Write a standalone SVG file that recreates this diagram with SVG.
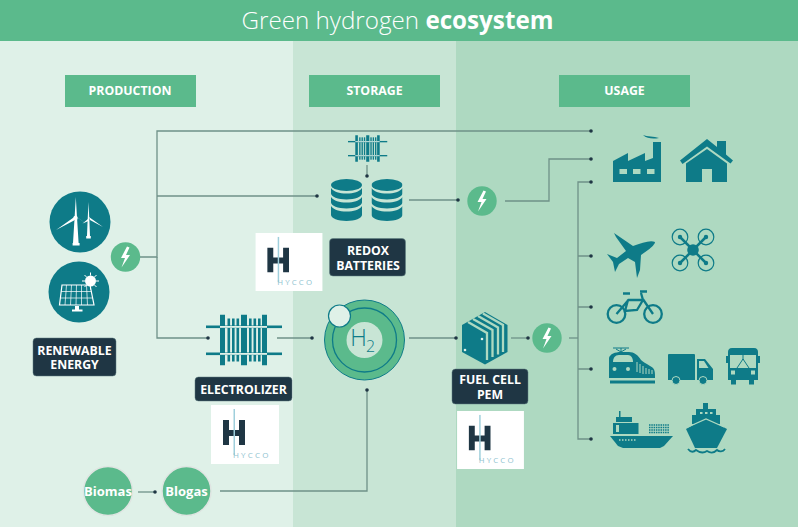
<svg xmlns="http://www.w3.org/2000/svg" width="798" height="527" viewBox="0 0 798 527">
<style>
.c{fill:none;stroke:#6f9188;stroke-width:1.3}
.d{fill:#1f3644}
.t{fill:#0e7b88}
.w{fill:#fff}
.hd{font:700 12.300px "Open Sans",sans-serif;fill:#fff;text-anchor:middle}
.lb{font:700 12.300px "Open Sans",sans-serif;fill:#fff;text-anchor:middle}
.bx{fill:#1f3644;stroke:#5f7f80;stroke-width:.5}
.g{fill:#5bba8c}
.hy{font:400 8px "Open Sans",sans-serif;fill:#8fc3d0;letter-spacing:2.200px}
.bio{font:700 13px "Open Sans",sans-serif;fill:#fff;text-anchor:middle}
.ring{fill:#5bba8c;stroke:#dfe5e2;stroke-width:1.500}
</style>
<defs>
<symbol id="bolt" viewBox="-15 -15 30 30" overflow="visible">
<circle r="14.700" class="g"/>
<path d="M1.500-10.500 L-4.500 1 L-.5 1 L-4 10.500 L4.500-2 L.5-2 L4-9.500Z" class="w"/>
</symbol>
<symbol id="logo" viewBox="0 0 68 59">
<rect width="68" height="59" fill="#fff"/>
<path d="M12 15h6v10h10V15h6v25h-6V31H18v9h-6z" fill="#1f3644"/>
<rect x="22.500" y="4" width="1.500" height="46" fill="#9fcfdc"/>
<text x="22" y="53" class="hy">HYCCO</text>
</symbol>
<symbol id="elec" viewBox="0 0 76 51">
<g class="t">
<rect y="11" width="76" height="2.600"/><rect y="38" width="76" height="2.600"/>
<rect x="14" width="5" height="51"/><rect x="35" width="6" height="51"/><rect x="56" width="5" height="51"/>
<rect x="21.500" y="4" width="2.600" height="43"/><rect x="26" y="4" width="2.600" height="43"/><rect x="30.500" y="4" width="2.600" height="43"/>
<rect x="43" y="4" width="2.600" height="43"/><rect x="47.500" y="4" width="2.600" height="43"/><rect x="52" y="4" width="2.600" height="43"/>
</g>
<g fill="#dff1e8"><rect x="14" y="11.500" width="47" height="1.800"/><rect x="14" y="38.500" width="47" height="1.800"/></g>
</symbol>
<symbol id="db" viewBox="0 0 31 42">
<g class="t">
<ellipse cx="15.500" cy="6" rx="15.500" ry="6"/>
<path d="M0 9c3 4 8 5.500 15.500 5.500S28 13 31 9v5.500c0 3-7 6-15.500 6S0 17.500 0 14.500z"/>
<path d="M0 18c3 4 8 5.500 15.500 5.500S28 22 31 18v5.500c0 3-7 6-15.500 6S0 26.500 0 23.500z"/>
<path d="M0 27c3 4 8 5.500 15.500 5.500S28 31 31 27v9c0 3-7 6-15.500 6S0 39 0 36z"/>
</g>
</symbol>
</defs>

<g id="background">
<rect width="293" height="527" fill="#dff1e8"/>
<rect x="293" width="163" height="527" fill="#c8e5d5"/>
<rect x="456" width="342" height="527" fill="#aed9c1"/>
<rect width="798" height="41" fill="#5bba8c"/>
<text x="397.500" y="29" text-anchor="middle" style="font:300 24.200px 'Open Sans',sans-serif" fill="#fff">Green hydrogen <tspan font-weight="700">ecosystem</tspan></text>
</g>

<g id="headers">
<g id="h-production"><rect x="65" y="75" width="131" height="32" class="g"/><text x="130" y="95" class="hd">PRODUCTION</text></g>
<g id="h-storage"><rect x="309" y="75" width="131" height="32" class="g"/><text x="374.500" y="95" class="hd">STORAGE</text></g>
<g id="h-usage"><rect x="559" y="75" width="131" height="32" class="g"/><text x="624.500" y="95" class="hd">USAGE</text></g>
</g>

<g id="connectors">
<path class="c" d="M140 257H157V131H591"/>
<path class="c" d="M157 196H317"/>
<path class="c" d="M157 257V338H208"/>
<path class="c" d="M277 338H312"/>
<path class="c" d="M367 165V176"/>
<path class="c" d="M409 200H458"/>
<path class="c" d="M505 201H549V159H591"/>
<path class="c" d="M409 338H456"/>
<path class="c" d="M511 338H528"/>
<path class="c" d="M569 338H578"/>
<path class="c" d="M591 182H578V439H591"/>
<path class="c" d="M578 256H591M578 307H591M578 369H591"/>
<path class="c" d="M138 492H155"/>
<path class="c" d="M220 491H367V390"/>
<g class="d">
<circle cx="591" cy="131" r="1.800"/><circle cx="591" cy="159" r="1.800"/><circle cx="591" cy="182" r="1.800"/>
<circle cx="591" cy="256" r="1.800"/><circle cx="591" cy="307" r="1.800"/><circle cx="591" cy="369" r="1.800"/><circle cx="591" cy="439" r="1.800"/>
<circle cx="317" cy="196" r="1.800"/><circle cx="367" cy="176" r="1.800"/><circle cx="458" cy="200" r="1.800"/>
<circle cx="208" cy="338" r="1.800"/><circle cx="312" cy="338" r="1.800"/><circle cx="367" cy="390" r="1.800"/>
<circle cx="456" cy="338" r="1.800"/><circle cx="528" cy="338" r="1.800"/><circle cx="155" cy="492" r="1.800"/>
</g>
</g>

<g id="renewable-energy">
<circle cx="80" cy="222" r="30.500" class="t"/>
<g class="w">
<path d="M73 243l1.500-24 1.300-22 1.300 22 1.500 24h1v2.500h-7V243z"/>
<path d="M75 216.500L56 230l18-9.500zM76 216.500L94 229l-16-11z"/>
<circle cx="75.500" cy="218" r="2.200" fill="#fff"/>
<path d="M87 236l.6-15 .9-19 .9 19 .6 15h.8v2.500h-4.600V236z"/>
<path d="M88 219l-5.500 4.500 6-2.500zM89 217l14 10-13-7z"/>
</g>
<circle cx="79" cy="292" r="30.500" class="t"/>
<path d="M62 285h28l4 20H59.500z" fill="none" stroke="#fff" stroke-width="1.200"/>
<path d="M66.500 285l-1.500 20M71.500 285l-1 20M76.500 285l-.5 20M81.500 285l0 20M86.500 285l1 20M61 291.500h30.500M60.500 298h32" stroke="#fff" stroke-width=".7" fill="none"/>
<path d="M75 306h4v3.500h3.500v2h-10.500v-2H75z" class="w"/>
<circle cx="90.500" cy="281" r="5.500" class="w"/>
<path d="M90.500 272.500v3M90.500 286.500v3M82 281h3M96 281h3M84.500 275l2 2M96.500 275l-2 2M84.500 287l2-2M96.500 287l-2-2" stroke="#fff" stroke-width="1"/>
<rect x="33" y="338" width="83" height="38" rx="3.500" class="bx"/>
<text class="lb"><tspan x="74.500" y="354.500">RENEWABLE</tspan><tspan x="74.500" y="369">ENERGY</tspan></text>
</g>
<g id="bolt-production"><use href="#bolt" x="110.500" y="242" width="30" height="30"/></g>

<g id="electrolizer">
<use href="#elec" x="206" y="314.500" width="76" height="51"/>
<rect x="195" y="377" width="97" height="24" rx="3.500" class="bx"/>
<text x="243.500" y="393.500" class="lb">ELECTROLIZER</text>
</g>
<g id="logo-electrolizer"><use href="#logo" x="211" y="405" width="68" height="59"/></g>

<g id="hydrogen">
<circle cx="364.500" cy="340" r="40" class="g" stroke="#0e7b88" stroke-width="1"/>
<circle cx="364.500" cy="340" r="32" fill="none" stroke="#0e7b88" stroke-width="1.300"/>
<circle cx="364.500" cy="340" r="18" fill="#c8e5d5"/>
<circle cx="339.500" cy="316" r="11" fill="#dff1e8" stroke="#0e7b88" stroke-width="1.200"/>
<text x="358.500" y="346" style="font:300 23px 'Open Sans',sans-serif" fill="#0e7b88" text-anchor="middle">H</text>
<text x="370.500" y="352" style="font:300 16px 'Open Sans',sans-serif" fill="#0e7b88" text-anchor="middle">2</text>
</g>

<g id="redox-batteries">
<use href="#elec" x="348" y="135" width="39.500" height="27"/>
<use href="#db" x="331" y="179" width="31" height="42"/>
<use href="#db" x="371.500" y="179" width="31" height="42"/>
<rect x="329.500" y="238.500" width="76" height="37.500" rx="3.500" class="bx"/>
<text class="lb"><tspan x="368" y="255">REDOX</tspan><tspan x="368" y="270">BATTERIES</tspan></text>
</g>
<g id="logo-redox"><use href="#logo" x="255" y="233" width="68" height="58"/></g>

<g id="bolt-storage"><use href="#bolt" x="467" y="186" width="30" height="30"/></g>

<g id="fuel-cell">
<path d="M485 312l22.500 13v27L485 364.500 462 352v-27z" class="t"/>
<path d="M468 322l19 11v27M473 319l19.500 11v27M478 316l20 11.500v27M483 313.500l20 11.500v27" fill="none" stroke="#aed9c1" stroke-width="2.300"/>
<circle cx="482" cy="339" r="1.300" fill="#dff1e8"/><circle cx="465" cy="350" r="1.300" fill="#dff1e8"/>
<rect x="452" y="369" width="76" height="35" rx="3.500" class="bx"/>
<text class="lb"><tspan x="490" y="384">FUEL CELL</tspan><tspan x="490" y="398.500">PEM</tspan></text>
</g>
<g id="logo-fuelcell"><use href="#logo" x="457" y="411" width="67" height="58"/></g>
<g id="bolt-fuelcell"><use href="#bolt" x="532" y="323" width="30" height="30"/></g>

<g id="biomas">
<circle cx="108" cy="491" r="24.500" class="ring"/>
<text x="108" y="495.500" class="bio">Biomas</text>
</g>
<g id="blogas">
<circle cx="186.500" cy="491" r="24.500" class="ring"/>
<text x="186.500" y="495.500" class="bio">Blogas</text>
</g>

<g id="factory" class="t">
<path d="M613 161L628 153V161L645 153V161L653 158V142H661V182H613z"/>
<path d="M643 135c4 2 11 1 16 3-5 1-12 1-16-3z"/>
<rect x="619.500" y="169" width="7.500" height="5" fill="#aed9c1"/><rect x="633" y="169" width="7.500" height="5" fill="#aed9c1"/><rect x="647" y="169" width="7.500" height="5" fill="#aed9c1"/>
</g>
<g id="house" class="t">
<path d="M680 160.500L707 139l10 8v-6h9v13.500l7 6-2.500 3L707 146.500l-24.500 17.500z"/>
<path d="M686 163.500L707 149l20 14.500V182H712v-13h-10v13h-16z"/>
</g>
<g id="plane" class="t">
<path d="M655 242C650 240 642 243 633 246L614 233L616 237L626 251L617 258L607 254L613 262L615 272L619 264L628 258L635 262L637 278L640 270L641 255L648 250C652 247 655 244 655 242z"/>
</g>
<g id="drone" fill="none" stroke="#0e7b88">
<circle cx="680" cy="237" r="7.800" stroke-width="1.200"/><circle cx="706" cy="237" r="7.800" stroke-width="1.200"/><circle cx="680" cy="263" r="7.800" stroke-width="1.200"/><circle cx="706" cy="263" r="7.800" stroke-width="1.200"/>
<path d="M680 237L706 263M706 237L680 263" stroke-width="2.500"/>
<circle cx="693" cy="250" r="5.800" fill="#0e7b88" stroke="none"/>
<g fill="#0e7b88" stroke="none"><circle cx="680" cy="237" r="2.200"/><circle cx="706" cy="237" r="2.200"/><circle cx="680" cy="263" r="2.200"/><circle cx="706" cy="263" r="2.200"/></g>
</g>
<g id="bicycle" fill="none" stroke="#0e7b88" stroke-width="2.300">
<circle cx="616.500" cy="314" r="8.800"/><circle cx="653" cy="314" r="8.800"/>
<path d="M616.500 314l12-14h15l9.500 14M628 300l-3 11 12-1 6-10M643 300l-2-7M640 291.500h7"/>
<path d="M623 293.500h7" stroke-width="2.500"/>
</g>
<g id="train" class="t">
<path d="M609 358c1-4 6-6 12-6h8c5 0 9 3 12 8 5 4 10 6 12 8 2 2 2 5 2 10h-46z"/>
<rect x="610" y="380.500" width="45" height="3"/>
<path d="M613 348h16M621 348v4M616 349l5 3 5-3" fill="none" stroke="#0e7b88" stroke-width="1"/>
<path d="M613 362c0-4 2-7 6-7h9c3 0 5 3 5 7z" fill="#aed9c1"/>
<circle cx="614.500" cy="369" r="2" fill="#aed9c1"/><circle cx="628" cy="369" r="2" fill="#aed9c1"/>
<path d="M637 362v10M640 364v9M643 366v8M646 368v6M649 369v5M652 370v4" stroke="#aed9c1" stroke-width="1"/>
</g>
<g id="truck" class="t">
<path d="M669 354h25q1 0 1 1v25h-27v-25q0-1 1-1zM697 359h8l8 10v11h-16z"/>
<circle cx="676" cy="380.500" r="4" stroke="#aed9c1"/><circle cx="703" cy="380.500" r="4" stroke="#aed9c1"/>
<path d="M699 361h5l4.500 7H699z" fill="#aed9c1"/>
</g>
<g id="bus" class="t">
<path d="M732 348h22c3 0 4 2 4 4v28h-30v-28c0-2 1-4 4-4z"/>
<rect x="726" y="356" width="2" height="7"/><rect x="758" y="356" width="2" height="7"/>
<path d="M731 380h5v4.500h-5zM749 380h5v4.500h-5z"/>
<path d="M730 355h26v13h-26z" fill="#aed9c1"/>
<path d="M743 359l-6 9M743 359l6 9M743 355v5" stroke="#0e7b88" stroke-width="1" fill="none"/>
<rect x="731" y="370.500" width="4" height="4" fill="#aed9c1"/><rect x="751" y="370.500" width="4" height="4" fill="#aed9c1"/>
</g>
<g id="cargo-ship" class="t">
<path d="M610 436h63l-9 10-4 2h-37l-5-2z"/>
<rect x="613" y="423" width="25.500" height="11"/><rect x="616" y="417" width="16" height="5"/><rect x="619" y="411" width="1.500" height="6"/>
<rect x="616" y="425" width="3" height="7" fill="#aed9c1"/>
<path d="M649 425h20M649 427.500h20M649 430h20M649 432.500h20" stroke="#0e7b88" stroke-width="1.500" stroke-dasharray="1.500 .8" fill="none"/>
<path d="M619 440h18" stroke="#aed9c1" stroke-width="1.300" stroke-dasharray="1.500 1.500"/>
</g>
<g id="cruise-ship" class="t">
<path d="M686 429l20-11 21 11-10 19h-22z"/>
<rect x="692" y="415" width="28" height="9"/><rect x="696" y="409" width="20" height="7"/><rect x="703" y="403" width="5" height="6"/>
<path d="M688 427l18-8 18 8" fill="none" stroke="#aed9c1" stroke-width="1.200"/>
<path d="M688 449c3 4 6 3 8 1 4 3 8 3 11 1 3 2 7 2 10-1 2 2 6 2 8-1" fill="none" stroke="#0e7b88" stroke-width="1.800"/>
<path d="M700 413h2.500M705 413h2.500M710 413h2.500" stroke="#aed9c1" stroke-width="2"/>
</g>
</svg>
